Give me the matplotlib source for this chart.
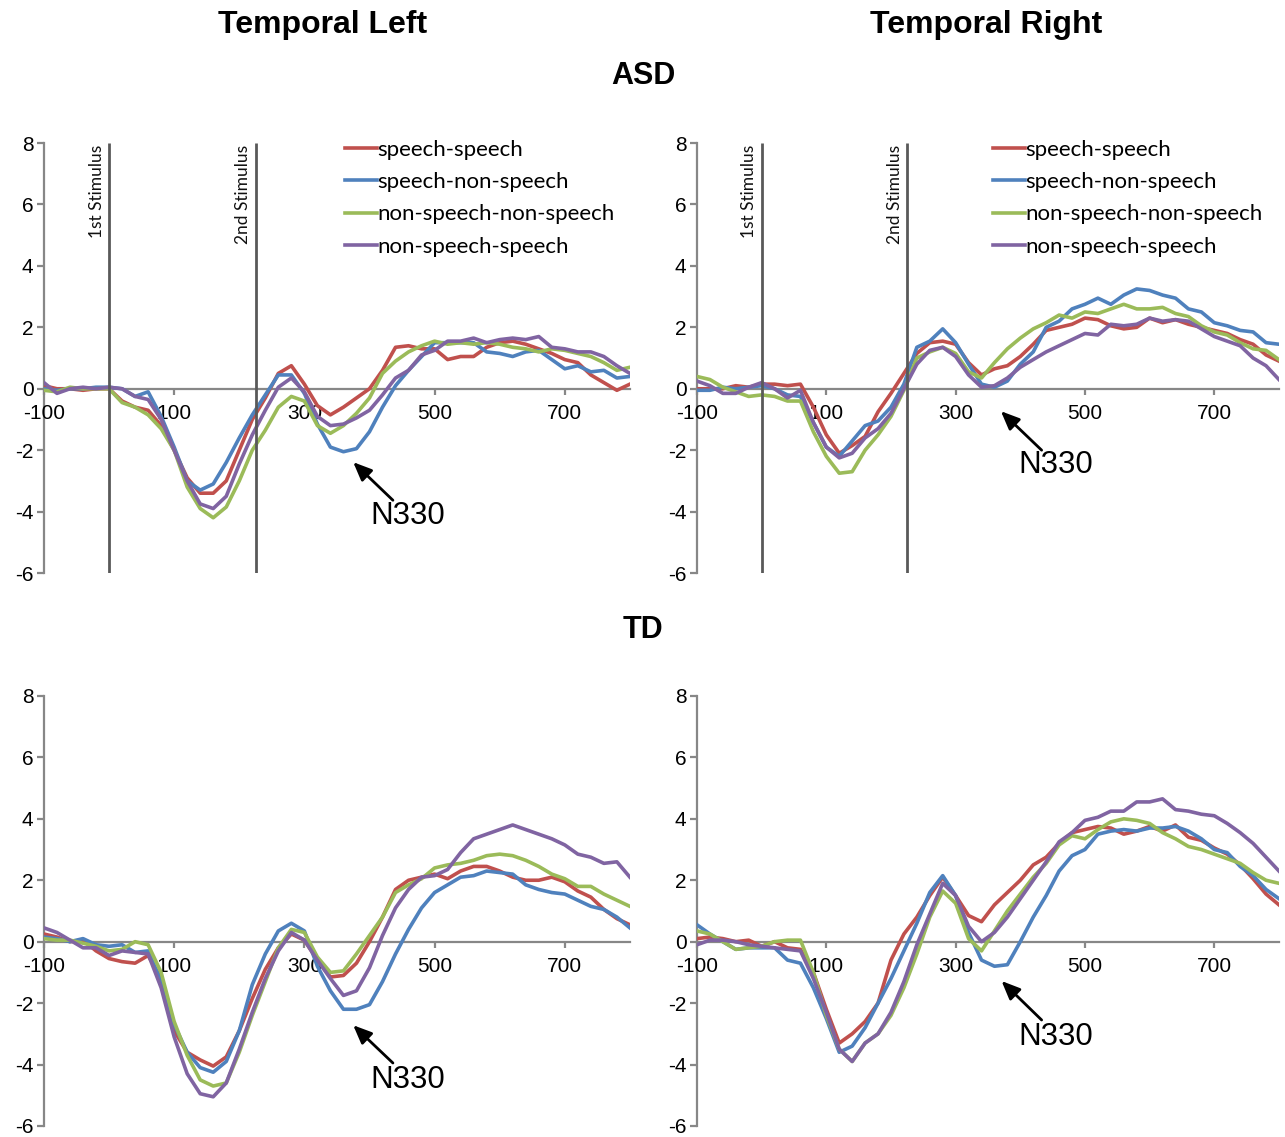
import matplotlib
matplotlib.use('Agg')
import matplotlib.pyplot as plt

# time axis (ms), one value every 20 ms
t = list(range(-100, 801, 20))

# ASD, temporal left
asd_left_ss = [0.1, 0.0, 0.0, -0.05, 0.0, 0.0, -0.4, -0.6, -0.7, -1.2, -2.0, -2.9, -3.4, -3.4, -3.0, -2.0, -1.0, -0.3, 0.5, 0.75,
               0.15, -0.55, -0.85, -0.6, -0.3, 0.0, 0.6, 1.35, 1.4, 1.3, 1.3, 0.95, 1.05, 1.05, 1.35, 1.5, 1.55, 1.45, 1.3, 1.15,
               0.95, 0.85, 0.45, 0.2, -0.05, 0.15]
asd_left_sn = [0.0, -0.05, 0.0, 0.0, 0.05, 0.05, 0.0, -0.25, -0.1, -0.9, -1.9, -3.0, -3.3, -3.1, -2.4, -1.6, -0.85, -0.2, 0.45, 0.45,
               -0.15, -1.15, -1.9, -2.05, -1.95, -1.4, -0.6, 0.1, 0.6, 1.05, 1.5, 1.5, 1.5, 1.5, 1.2, 1.15, 1.05, 1.2, 1.25, 0.95,
               0.65, 0.75, 0.55, 0.6, 0.35, 0.4]
asd_left_nn = [-0.05, -0.1, 0.05, 0.0, 0.0, 0.0, -0.45, -0.6, -0.85, -1.3, -2.0, -3.2, -3.9, -4.2, -3.85, -3.0, -2.0, -1.35, -0.6, -0.25,
               -0.4, -1.2, -1.45, -1.2, -0.8, -0.3, 0.5, 0.9, 1.2, 1.4, 1.55, 1.45, 1.5, 1.45, 1.5, 1.45, 1.35, 1.3, 1.2, 1.3,
               1.25, 1.15, 1.05, 0.85, 0.6, 0.7]
asd_left_ns = [0.2, -0.15, 0.0, 0.05, 0.0, 0.05, 0.0, -0.25, -0.35, -1.0, -2.0, -3.0, -3.75, -3.9, -3.5, -2.45, -1.5, -0.7, 0.05, 0.35,
               -0.1, -0.9, -1.2, -1.15, -0.95, -0.7, -0.2, 0.35, 0.6, 1.1, 1.25, 1.55, 1.55, 1.65, 1.5, 1.6, 1.65, 1.6, 1.7, 1.35,
               1.3, 1.2, 1.2, 1.05, 0.75, 0.5]

# ASD, temporal right
asd_right_ss = [0.0, 0.0, 0.0, 0.1, 0.05, 0.15, 0.15, 0.1, 0.15, -0.6, -1.5, -2.1, -1.85, -1.55, -0.75, -0.15, 0.5, 1.15, 1.5, 1.55,
                1.45, 0.85, 0.45, 0.65, 0.75, 1.05, 1.45, 1.9, 2.0, 2.1, 2.3, 2.25, 2.05, 1.95, 2.0, 2.3, 2.15, 2.25, 2.1, 2.0,
                1.9, 1.8, 1.6, 1.45, 1.1, 0.9]
asd_right_sn = [-0.05, -0.05, 0.05, 0.0, 0.05, 0.1, 0.0, -0.2, -0.25, -1.1, -1.9, -2.2, -1.7, -1.2, -1.05, -0.6, 0.15, 1.35, 1.55, 1.95,
                1.5, 0.8, 0.15, 0.05, 0.25, 0.8, 1.2, 2.0, 2.2, 2.6, 2.75, 2.95, 2.75, 3.05, 3.25, 3.2, 3.05, 2.95, 2.6, 2.5,
                2.15, 2.05, 1.9, 1.85, 1.5, 1.45]
asd_right_nn = [0.4, 0.3, 0.05, -0.1, -0.25, -0.2, -0.25, -0.4, -0.4, -1.4, -2.2, -2.75, -2.7, -2.0, -1.5, -0.9, -0.05, 1.0, 1.2, 1.35,
                1.15, 0.55, 0.35, 0.85, 1.3, 1.65, 1.95, 2.15, 2.4, 2.3, 2.5, 2.45, 2.6, 2.75, 2.6, 2.6, 2.65, 2.45, 2.35, 2.05,
                1.85, 1.75, 1.5, 1.3, 1.25, 0.95]
asd_right_ns = [0.25, 0.1, -0.15, -0.15, 0.05, 0.2, 0.0, -0.3, -0.05, -1.1, -1.9, -2.25, -2.1, -1.6, -1.3, -0.8, 0.0, 0.8, 1.25, 1.35,
                1.05, 0.45, 0.05, 0.1, 0.35, 0.7, 0.95, 1.2, 1.4, 1.6, 1.8, 1.75, 2.1, 2.05, 2.1, 2.3, 2.2, 2.25, 2.2, 1.95,
                1.7, 1.55, 1.4, 1.0, 0.75, 0.3]

# TD, temporal left
td_left_ss = [0.25, 0.15, 0.0, 0.05, -0.3, -0.55, -0.65, -0.7, -0.45, -1.2, -2.9, -3.6, -3.85, -4.05, -3.75, -2.9, -1.85, -0.9, -0.2, 0.25,
              0.05, -0.6, -1.15, -1.1, -0.7, 0.0, 0.8, 1.7, 2.0, 2.1, 2.2, 2.05, 2.3, 2.45, 2.45, 2.3, 2.1, 2.0, 2.0, 2.1,
              1.95, 1.65, 1.45, 1.05, 0.75, 0.55]
td_left_sn = [0.15, 0.1, 0.0, 0.1, -0.1, -0.15, -0.1, -0.35, -0.3, -1.3, -2.7, -3.6, -4.1, -4.25, -3.9, -2.9, -1.4, -0.4, 0.35, 0.6,
              0.35, -0.8, -1.6, -2.2, -2.2, -2.05, -1.3, -0.4, 0.4, 1.1, 1.6, 1.85, 2.1, 2.15, 2.3, 2.25, 2.2, 1.85, 1.7, 1.6,
              1.55, 1.35, 1.15, 1.05, 0.8, 0.45]
td_left_nn = [0.1, 0.05, 0.05, -0.05, -0.15, -0.3, -0.25, 0.0, -0.1, -1.0, -2.6, -3.7, -4.5, -4.7, -4.6, -3.6, -2.4, -1.3, -0.2, 0.4,
              0.3, -0.5, -1.0, -0.95, -0.4, 0.2, 0.8, 1.6, 1.85, 2.05, 2.4, 2.5, 2.55, 2.65, 2.8, 2.85, 2.8, 2.65, 2.45, 2.2,
              2.05, 1.8, 1.8, 1.55, 1.35, 1.15]
td_left_ns = [0.45, 0.3, 0.05, -0.2, -0.2, -0.45, -0.3, -0.35, -0.4, -1.5, -3.1, -4.3, -4.95, -5.05, -4.6, -3.5, -2.3, -1.2, -0.3, 0.3,
              0.05, -0.6, -1.2, -1.75, -1.6, -0.85, 0.2, 1.1, 1.7, 2.1, 2.15, 2.35, 2.9, 3.35, 3.5, 3.65, 3.8, 3.65, 3.5, 3.35,
              3.15, 2.85, 2.75, 2.55, 2.6, 2.1]

# TD, temporal right
td_right_ss = [0.1, 0.15, 0.1, 0.0, 0.05, -0.15, 0.0, -0.2, -0.25, -1.0, -2.2, -3.3, -3.0, -2.6, -2.0, -0.6, 0.25, 0.8, 1.5, 2.1,
               1.5, 0.85, 0.65, 1.2, 1.6, 2.0, 2.5, 2.75, 3.2, 3.55, 3.65, 3.75, 3.7, 3.5, 3.6, 3.75, 3.6, 3.8, 3.4, 3.3,
               3.05, 2.85, 2.5, 2.05, 1.55, 1.2]
td_right_sn = [0.55, 0.25, 0.0, -0.25, -0.2, -0.2, -0.2, -0.6, -0.7, -1.5, -2.5, -3.6, -3.4, -2.8, -2.0, -1.2, -0.3, 0.6, 1.6, 2.15,
               1.5, 0.3, -0.6, -0.8, -0.75, 0.0, 0.8, 1.5, 2.3, 2.8, 3.0, 3.5, 3.6, 3.65, 3.6, 3.7, 3.7, 3.75, 3.6, 3.35,
               3.0, 2.9, 2.45, 2.15, 1.7, 1.4]
td_right_nn = [0.35, 0.25, 0.0, -0.25, -0.2, -0.15, 0.0, 0.05, 0.05, -1.0, -2.4, -3.5, -3.9, -3.3, -3.0, -2.4, -1.5, -0.4, 0.8, 1.65,
               1.25, 0.1, -0.3, 0.35, 1.0, 1.55, 2.1, 2.55, 3.15, 3.45, 3.35, 3.65, 3.9, 4.0, 3.95, 3.85, 3.55, 3.35, 3.1, 3.0,
               2.85, 2.7, 2.55, 2.25, 2.0, 1.9]
td_right_ns = [-0.1, 0.05, 0.05, 0.0, -0.1, -0.15, -0.2, -0.25, -0.3, -1.2, -2.3, -3.5, -3.9, -3.3, -3.0, -2.3, -1.3, -0.1, 0.9, 1.9,
               1.5, 0.5, 0.0, 0.3, 0.8, 1.4, 2.0, 2.6, 3.25, 3.55, 3.95, 4.05, 4.25, 4.25, 4.55, 4.55, 4.65, 4.3, 4.25, 4.15,
               4.1, 3.85, 3.55, 3.2, 2.75, 2.3]

conditions = ['speech-speech', 'speech-non-speech', 'non-speech-non-speech', 'non-speech-speech']
colors = ['#C0504D', '#4F81BD', '#9BBB59', '#8064A2']
stim_times = [0, 225]
stim_labels = ['1st Stimulus', '2nd Stimulus']
x_ticks = [-100, 100, 300, 500, 700]
y_ticks = [-6, -4, -2, 0, 2, 4, 6, 8]

# N330 arrow: head, tail, label position
n330 = {
    'asd_left': ((375, -2.39), (436, -3.63), (459, -4.15)),
    'asd_right': ((370, -0.73), (433, -2.0), (455, -2.49)),
    'td_left': ((375, -2.72), (436, -3.95), (459, -4.51)),
    'td_right': ((371, -1.28), (433, -2.55), (455, -3.11)),
}

panels = [
    ('asd_left', [asd_left_ss, asd_left_sn, asd_left_nn, asd_left_ns], [0.0342, 0.4960, 0.4560, 0.3782], True),
    ('asd_right', [asd_right_ss, asd_right_sn, asd_right_nn, asd_right_ns], [0.5424, 0.4960, 0.4529, 0.3782], True),
    ('td_left', [td_left_ss, td_left_sn, td_left_nn, td_left_ns], [0.0342, 0.0097, 0.4560, 0.3782], False),
    ('td_right', [td_right_ss, td_right_sn, td_right_nn, td_right_ns], [0.5424, 0.0097, 0.4529, 0.3782], False),
]
legend_x = {'asd_left': 0.5137, 'asd_right': 0.5086}

axis_gray = '#878787'
arial = 'Liberation Sans'
calibri = 'Lato'

fig = plt.figure(figsize=(12.85, 11.37), dpi=100)

for name, series, rect, is_top in panels:
    ax = fig.add_axes(rect)
    lines = []
    for vals, c, lab in zip(series, colors, conditions):
        ln, = ax.plot(t, vals, color=c, lw=2.6, label=lab, zorder=2, solid_joinstyle='round')
        lines.append(ln)

    ax.set_xlim(-100, 800)
    ax.set_ylim(-6, 8)
    for s in ['top', 'right']:
        ax.spines[s].set_visible(False)
    ax.spines['bottom'].set_position(('data', 0))
    for s in ['left', 'bottom']:
        ax.spines[s].set_color(axis_gray)
        ax.spines[s].set_linewidth(1.6)
        ax.spines[s].set_zorder(1)
    ax.set_xticks(x_ticks)
    ax.set_xticklabels([str(v) for v in x_ticks], fontfamily=arial)
    ax.set_yticks(y_ticks)
    ax.set_yticklabels([str(v) for v in y_ticks], fontfamily=arial)
    ax.tick_params(axis='x', direction='out', length=4, width=1.6, color=axis_gray, labelsize=15, pad=7)
    ax.tick_params(axis='y', direction='out', length=5, width=1.6, color=axis_gray, labelsize=15, pad=2.5)

    if is_top:
        ax.vlines(stim_times, -6, 8, color='#595959', lw=2, zorder=3)
        for st, sl in zip(stim_times, stim_labels):
            ax.annotate(sl, xy=(st, 8), xytext=(-3, -1), textcoords='offset points',
                        rotation=90, ha='right', va='top', fontsize=12.5, fontfamily=calibri, color='#111111')
        ax.legend(handles=lines, loc='upper left', bbox_to_anchor=(legend_x[name], 1.008),
                  frameon=False, handlelength=1.45, handletextpad=0.0, labelspacing=0.56,
                  borderpad=0, borderaxespad=0, prop={'family': calibri, 'size': 16})

    head, tail, lab = n330[name]
    ax.annotate('', xy=head, xytext=tail,
                arrowprops=dict(arrowstyle='-|>,head_length=0.7,head_width=0.3', color='black', lw=2,
                                shrinkA=0, shrinkB=0, mutation_scale=16))
    ax.text(lab[0], lab[1], 'N330', ha='center', va='center', fontsize=22.5, fontfamily=arial)

fig.text(0.2514, 0.9780, 'Temporal Left', ha='center', va='center', fontsize=23, fontweight='bold', fontfamily=arial)
fig.text(0.7673, 0.9780, 'Temporal Right', ha='center', va='center', fontsize=23, fontweight='bold', fontfamily=arial)
fig.text(0.5004, 0.9335, 'ASD', ha='center', va='center', fontsize=22, fontweight='bold', fontfamily=arial)
fig.text(0.5004, 0.4455, 'TD', ha='center', va='center', fontsize=22, fontweight='bold', fontfamily=arial)

fig.savefig('out.png', dpi=100)
